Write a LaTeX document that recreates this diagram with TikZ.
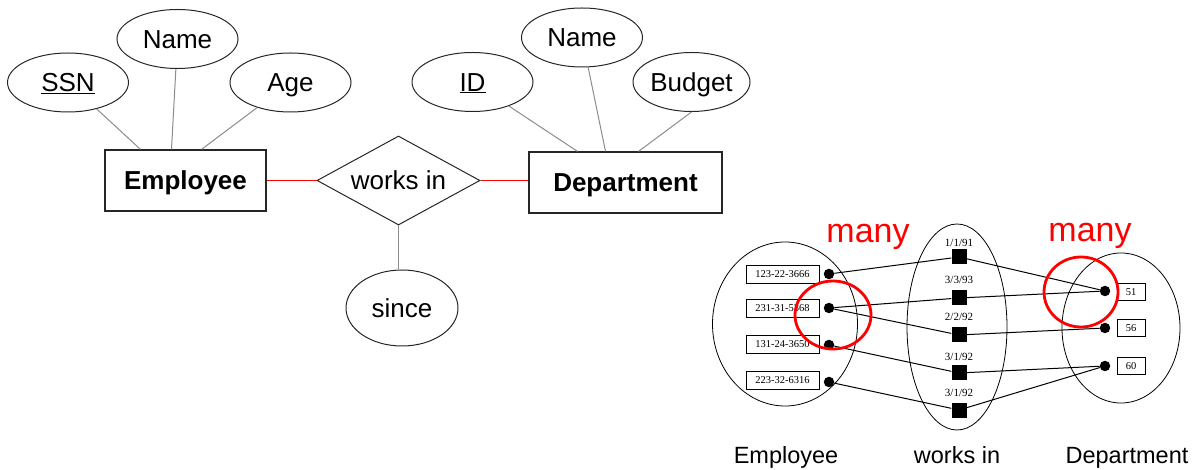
\documentclass[tikz,border=0pt]{standalone}
\usepackage{fontspec}
\setmainfont{Liberation Sans}
\newfontfamily\valuefont{Liberation Serif}
\usetikzlibrary{shapes.geometric}
\begin{document}
\begin{tikzpicture}[x=1pt,y=-1pt]
		\tikzset{
			entity/.style={draw=black!85, rectangle, line width=1.2pt, minimum width=161pt, minimum height=61pt, inner sep=0pt, text height=18.6pt, text depth=0pt, font=\fontsize{26}{30}\selectfont\bfseries},
			attr/.style={draw=black!85, ellipse, line width=1pt, minimum width=121pt, minimum height=59pt, inner sep=0pt, text height=18.6pt, text depth=0pt, font=\fontsize{26}{30}\selectfont},
			rel/.style={draw=black!85, diamond, aspect=1.8, line width=1pt, minimum width=163pt, minimum height=89pt, inner sep=0pt, text height=18.6pt, text depth=0pt, font=\fontsize{26}{30}\selectfont},
			link/.style={draw=black!45, line width=1pt},
			role/.style={draw=red, line width=1.3pt},
			setshape/.style={draw, ellipse, line width=0.8pt, inner sep=0pt},
			val/.style={draw, rectangle, fill=white, line width=0.8pt, minimum height=18pt, inner sep=0pt, font=\valuefont\fontsize{10.5}{12}\selectfont},
			dot/.style={circle, fill=black, minimum size=10.5pt, inner sep=0pt},
			box/.style={rectangle, fill=black, minimum size=15pt, inner sep=0pt},
			date/.style={inner sep=0pt, font=\valuefont\fontsize{11}{12}\selectfont},
			pair/.style={draw=black, line width=1pt},
			ring/.style={draw=red, ellipse, line width=2.8pt, inner sep=0pt},
			many/.style={red, anchor=base, inner sep=0pt, font=\fontsize{34}{40}\selectfont},
			setname/.style={anchor=base, inner sep=0pt, font=\fontsize{23.5}{28}\selectfont},
		}
		\useasboundingbox (0,0) rectangle (1200,470);
		
		% The ER diagram: entities and relationship first.
		\node[entity] (emp) at (185.5,180.5) {Employee};
		\node[entity, minimum width=193pt] (dept) at (625.5,182.5) {Department};
		\node[rel] (works) at (398.5,180.5) {works in};
		
		% Attributes of the two entities and of the relationship.
		\node[attr] (ssn) at (68,82.5) {\underline{SSN}};
		\node[attr] (ename) at (177.5,39) {Name};
		\node[attr] (age) at (290.5,82.5) {Age};
		\node[attr] (did) at (472.5,82) {\underline{ID}};
		\node[attr] (dname) at (582,37.5) {Name};
		\node[attr, minimum width=117pt] (budget) at (691.5,82) {Budget};
		\node[attr, minimum width=112pt, minimum height=76pt] (since) at (402,308) {since};
		
		% Attribute lines.
		\draw[link] (ssn) -- ([xshift=-45pt]emp.north);
		\draw[link] (ename) -- ([xshift=-14pt]emp.north);
		\draw[link] (age) -- ([xshift=16pt]emp.north);
		\draw[link] (did) -- ([xshift=-48pt]dept.north);
		\draw[link] (dname) -- ([xshift=-20pt]dept.north);
		\draw[link] (budget.south) -- ([xshift=13pt]dept.north);
		\draw[link] (works.south) -- (works.south |- since.north);
		
		% Role lines in red.
		\draw[role] (emp.east) -- (works.west);
		\draw[role] (works.east) -- (dept.west |- works.east);
		
		% The instance picture: the three sets.
		\node[setshape, minimum width=145pt, minimum height=164pt] (empset) at (785,324) {};
		\node[setshape, minimum width=100pt, minimum height=206pt] (workset) at (957,327) {};
		\node[setshape, minimum width=118pt, minimum height=150pt] (deptset) at (1121,328) {};
		
		% Employee values and their dots.
		\node[val, minimum width=73pt] (v1) at (782.5,274) {123-22-3666};
		\node[val, minimum width=73pt] (v2) at (782.5,308) {231-31-5368};
		\node[val, minimum width=73pt] (v3) at (782.5,344) {131-24-3650};
		\node[val, minimum width=73pt] (v4) at (782.5,380) {223-32-6316};
		\node[dot] (e1) at (829,274) {};
		\node[dot] (e2) at (829,308) {};
		\node[dot] (e3) at (829,345) {};
		\node[dot] (e4) at (829,382) {};
		
		% works in instances with their dates.
		\node[box] (r1) at (959,257) {};
		\node[box] (r2) at (959,298) {};
		\node[box] (r3) at (959,335) {};
		\node[box] (r4) at (959,373) {};
		\node[box] (r5) at (959,410) {};
		\node[date] (t1) at (959,243) {1/1/91};
		\node[date] (t2) at (959,280) {3/3/93};
		\node[date] (t3) at (959,317) {2/2/92};
		\node[date] (t4) at (959,357) {3/1/92};
		\node[date] (t5) at (959,393) {3/1/92};
		
		% Department values and their dots.
		\node[val, minimum width=28pt, minimum height=17pt] (n1) at (1131,292) {51};
		\node[val, minimum width=28pt, minimum height=17pt] (n2) at (1131,328) {56};
		\node[val, minimum width=28pt, minimum height=17pt] (n3) at (1131,366) {60};
		\node[dot] (d1) at (1105,291) {};
		\node[dot] (d2) at (1105,328) {};
		\node[dot] (d3) at (1105,366) {};
		
		% Pairs.
		\draw[pair] (e1) -- (r1) -- (d1);
		\draw[pair] (e2) -- (r2) -- (d1);
		\draw[pair] (e2) -- (r3) -- (d2);
		\draw[pair] (e3) -- (r4) -- (d3);
		\draw[pair] (e4) -- (r5) -- (d3);
		
		% Red rings and labels last.
		\node[ring, minimum width=76pt, minimum height=68pt] (ring1) at (833,315) {};
		\node[ring, minimum width=74pt, minimum height=70pt] (ring2) at (1081,292) {};
		\node[many] (many1) at (868,243) {many};
		\node[many] (many2) at (1090,242) {many};
		\node[setname] (empname) at (786,463) {Employee};
		\node[setname] (workname) at (957,463) {works in};
		\node[setname] (deptname) at (1127,463) {Department};
	\end{tikzpicture}
\end{document}
